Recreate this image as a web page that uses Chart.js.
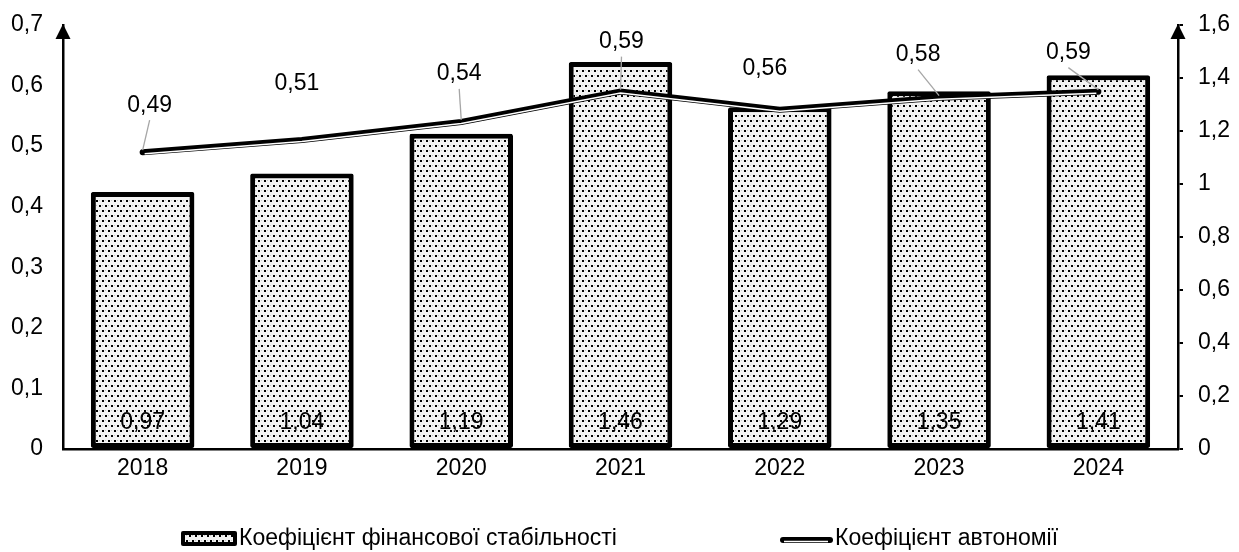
<!DOCTYPE html>
<html lang="uk">
<head>
<meta charset="utf-8">
<script src="https://cdn.jsdelivr.net/npm/chart.js@4.4.1/dist/chart.umd.min.js"></script>
<style>
    html, body { margin: 0; padding: 0; background: #fff; }
    #wrap { width: 1239px; height: 552px; position: relative; }
</style>
</head>
<body>
<div id="wrap"><canvas id="koefChart"></canvas></div>
<script>
// ========== ДАНІ ==========
const roky = ['2018', '2019', '2020', '2021', '2022', '2023', '2024'];
const stabilnist = [0.97, 1.04, 1.19, 1.46, 1.29, 1.35, 1.41];
const avtonomiya = [0.49, 0.51, 0.54, 0.59, 0.56, 0.58, 0.59];
const nazvy = ['Коефіцієнт фінансової стабільності', 'Коефіцієнт автономії'];

// зсув підписів лінії відносно точки (dx, dy) і чи є виноска
const zsuvPidpysiv = [[7, -47], [-5, -56], [-2, -48], [1, -50], [-15, -41], [-21, -43], [-30, -39]];
const vynosky = [true, false, true, true, false, true, true];

const shryft = { family: '"Liberation Sans", Arial, sans-serif', size: 23 };
const shryftCss = '23px "Liberation Sans", Arial, sans-serif';

function komoyu(v, d) {
    return v.toFixed(d).replace('.', ',');
}

const ctx = document.getElementById('koefChart').getContext('2d');

// крапковий візерунок для стовпців
function stvorytyVizerunok() {
    const c = document.createElement('canvas');
    c.width = 6;
    c.height = 10;
    const g = c.getContext('2d');
    g.fillStyle = '#f3f3f3';
    g.fillRect(0, 0, 6, 10);
    g.fillStyle = '#000';
    g.fillRect(0, 0, 2, 2);
    g.fillRect(3, 5, 2, 2);
    g.fillStyle = '#c8c8c8';
    g.fillRect(3, 0, 1, 1);
    g.fillRect(0, 5, 1, 1);
    return ctx.createPattern(c, 'repeat');
}
const vizerunok = stvorytyVizerunok();

function strilka(c, x, y) {
    c.beginPath();
    c.moveTo(x, y);
    c.lineTo(x - 7.5, y + 15);
    c.lineTo(x + 7.5, y + 15);
    c.closePath();
    c.fill();
}

const pidpysy = {
    id: 'pidpysy',
    afterDatasetDraw(chart, args) {
        if (args.index !== 1) return;
        // біла смужка всередині лінії (подвійна лінія)
        const c = chart.ctx;
        const pts = args.meta.data;
        c.save();
        c.strokeStyle = '#fff';
        c.lineWidth = 1.5;
        c.beginPath();
        pts.forEach((p, i) => {
            if (i === 0) c.moveTo(p.x + 2, p.y + 1.5);
            else if (i === pts.length - 1) c.lineTo(p.x - 2, p.y + 1.5);
            else c.lineTo(p.x, p.y + 1.5);
        });
        c.stroke();
        c.restore();
    },
    afterDatasetsDraw(chart) {
        const c = chart.ctx;
        const area = chart.chartArea;
        c.save();
        c.font = shryftCss;
        c.fillStyle = '#000';
        c.textAlign = 'center';
        c.textBaseline = 'middle';

        // підписи стовпців
        chart.getDatasetMeta(0).data.forEach((bar, i) => {
            c.fillText(komoyu(stabilnist[i], 2), bar.x, area.bottom - 26);
        });

        // підписи лінії з виносками
        chart.getDatasetMeta(1).data.forEach((pt, i) => {
            const lx = pt.x + zsuvPidpysiv[i][0];
            const ly = pt.y + zsuvPidpysiv[i][1];
            if (vynosky[i]) {
                c.strokeStyle = '#a6a6a6';
                c.lineWidth = 1.3;
                c.beginPath();
                c.moveTo(lx, ly + 15);
                c.lineTo(pt.x, pt.y - 2);
                c.stroke();
            }
            c.fillStyle = '#000';
            c.fillText(komoyu(avtonomiya[i], 2), lx, ly);
        });

        // стрілки на осях
        c.fillStyle = '#000';
        strilka(c, area.left, area.top - 1);
        strilka(c, area.right, area.top - 1);
        c.restore();
    },
    afterDraw(chart) {
        // легенда
        const c = chart.ctx;
        c.save();
        c.fillStyle = '#000';
        c.beginPath();
        c.roundRect(181, 531, 56, 15, 2);
        c.fill();
        c.fillStyle = vizerunok;
        c.fillRect(185, 535, 48, 7);

        c.lineCap = 'round';
        c.strokeStyle = '#000';
        c.lineWidth = 6;
        c.beginPath();
        c.moveTo(783, 540);
        c.lineTo(830, 540);
        c.stroke();
        c.strokeStyle = '#fff';
        c.lineWidth = 1.5;
        c.lineCap = 'butt';
        c.beginPath();
        c.moveTo(784, 541.5);
        c.lineTo(828, 541.5);
        c.stroke();

        c.font = shryftCss;
        c.fillStyle = '#000';
        c.textAlign = 'left';
        c.textBaseline = 'middle';
        c.fillText(nazvy[0], 239, 539);
        c.fillText(nazvy[1], 835, 539);
        c.restore();
    }
};

function bezVidstupiv(s) {
    s.paddingTop = 0;
    s.paddingBottom = 0;
    s.paddingLeft = 0;
    s.paddingRight = 0;
}

const koefChart = new Chart(ctx, {
    data: {
        labels: roky,
        datasets: [{
            type: 'bar',
            label: nazvy[0],
            data: stabilnist,
            yAxisID: 'yR',
            backgroundColor: vizerunok,
            borderColor: '#000',
            borderWidth: 5,
            borderSkipped: false,
            borderRadius: 2,
            barPercentage: 0.65,
            categoryPercentage: 1,
            order: 2
        }, {
            type: 'line',
            label: nazvy[1],
            data: avtonomiya,
            yAxisID: 'yL',
            borderColor: '#000',
            borderWidth: 6,
            borderCapStyle: 'round',
            borderJoinStyle: 'miter',
            pointRadius: 0,
            tension: 0,
            fill: false,
            order: 1
        }]
    },
    options: {
        responsive: true,
        maintainAspectRatio: false,
        animation: false,
        layout: { padding: { top: 25, left: 0, right: 0, bottom: 0 } },
        plugins: {
            legend: { display: false },
            tooltip: { enabled: false }
        },
        scales: {
            x: {
                offset: true,
                grid: { display: false, drawTicks: false },
                border: { display: true, color: '#000', width: 2.5 },
                ticks: { color: '#000', font: shryft, padding: 6 },
                afterFit(s) { s.height = 103; bezVidstupiv(s); }
            },
            yL: {
                position: 'left',
                min: 0,
                max: 0.7,
                grid: { display: false, drawTicks: false },
                border: { display: true, color: '#000', width: 2.5 },
                ticks: {
                    stepSize: 0.1,
                    color: '#000',
                    font: shryft,
                    padding: 20,
                    callback: v => String(Math.round(v * 10) / 10).replace('.', ',')
                },
                afterFit(s) { s.width = 63; bezVidstupiv(s); }
            },
            yR: {
                position: 'right',
                min: 0,
                max: 1.6,
                grid: { display: true, drawOnChartArea: false, drawTicks: true, tickLength: 5, color: '#000', lineWidth: 2 },
                border: { display: true, color: '#000', width: 2.5 },
                ticks: {
                    stepSize: 0.2,
                    color: '#000',
                    font: shryft,
                    padding: 15,
                    callback: v => String(Math.round(v * 10) / 10).replace('.', ',')
                },
                afterFit(s) { s.width = 61; bezVidstupiv(s); }
            }
        }
    },
    plugins: [pidpysy]
});
</script>
</body>
</html>
